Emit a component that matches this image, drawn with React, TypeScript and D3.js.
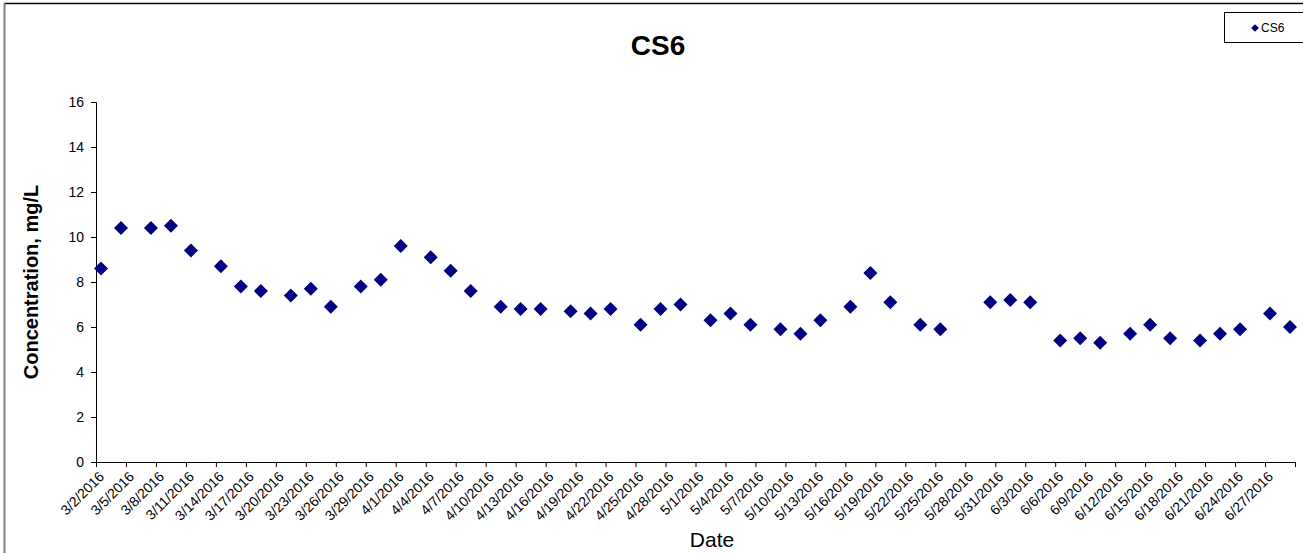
import React, { useEffect, useRef } from 'react';
import * as d3 from 'd3';

// sample dates (taken around midday) and measured concentrations
const sampleDates = [
  '3/2/2016', '3/4/2016', '3/7/2016', '3/9/2016', '3/11/2016', '3/14/2016', '3/16/2016',
  '3/18/2016', '3/21/2016', '3/23/2016', '3/25/2016', '3/28/2016', '3/30/2016', '4/1/2016',
  '4/4/2016', '4/6/2016', '4/8/2016', '4/11/2016', '4/13/2016', '4/15/2016', '4/18/2016',
  '4/20/2016', '4/22/2016', '4/25/2016', '4/27/2016', '4/29/2016', '5/2/2016', '5/4/2016',
  '5/6/2016', '5/9/2016', '5/11/2016', '5/13/2016', '5/16/2016', '5/18/2016', '5/20/2016',
  '5/23/2016', '5/25/2016', '5/30/2016', '6/1/2016', '6/3/2016', '6/6/2016', '6/8/2016',
  '6/10/2016', '6/13/2016', '6/15/2016', '6/17/2016', '6/20/2016', '6/22/2016', '6/24/2016',
  '6/27/2016', '6/29/2016',
];
const cs6Values = [
  8.6, 10.4, 10.4, 10.5, 9.4, 8.7, 7.8,
  7.6, 7.4, 7.7, 6.9, 7.8, 8.1, 9.6,
  9.1, 8.5, 7.6, 6.9, 6.8, 6.8, 6.7,
  6.6, 6.8, 6.1, 6.8, 7.0, 6.3, 6.6,
  6.1, 5.9, 5.7, 6.3, 6.9, 8.4, 7.1,
  6.1, 5.9, 7.1, 7.2, 7.1, 5.4, 5.5,
  5.3, 5.7, 6.1, 5.5, 5.4, 5.7, 5.9,
  6.6, 6.0,
];
const xDomain = ['3/2/2016', '6/30/2016'];
const yTicks = [0, 2, 4, 6, 8, 10, 12, 14, 16];
const tickStepDays = 3;

const parseDate = d3.timeParse('%m/%d/%Y');
const fmtDate = d3.timeFormat('%-m/%-d/%Y');

const W = 1303;
const H = 553;
const margin = { left: 96, right: 8, top: 102, bottom: 91 };
const navy = '#000080';
const font = 'Arial, "Liberation Sans", sans-serif';

const App: React.FC = () => {
  const svgRef = useRef<SVGSVGElement | null>(null);

  useEffect(() => {
    if (!svgRef.current) return;
    const svg = d3.select(svgRef.current);
    svg.selectAll('*').remove();

    const start = parseDate(xDomain[0]) as Date;
    const end = parseDate(xDomain[1]) as Date;
    const x = d3.scaleTime().domain([start, end]).range([margin.left, W - margin.right]);
    const y = d3.scaleLinear().domain([0, 16]).range([H - margin.bottom, margin.top]);

    const data = sampleDates.map((d, i) => ({
      date: d3.timeHour.offset(parseDate(d) as Date, 12),
      value: cs6Values[i],
    }));

    // chart frame
    svg.append('line').attr('x1', 4).attr('x2', W).attr('y1', 3.5).attr('y2', 3.5)
      .attr('stroke', '#000').attr('stroke-width', 1.5);
    svg.append('line').attr('x1', 4.5).attr('x2', 4.5).attr('y1', 3).attr('y2', H)
      .attr('stroke', '#808080').attr('stroke-width', 2);

    // title
    svg.append('text').attr('x', 658).attr('y', 55).attr('text-anchor', 'middle')
      .style('font-family', font)
      .style('font-size', '28px').style('font-weight', 'bold').text('CS6');

    // y axis
    const yAxis = d3.axisLeft(y).tickValues(yTicks).tickSize(5).tickPadding(7);
    const gy = svg.append('g').attr('transform', `translate(${margin.left},0)`).call(yAxis);
    gy.select('.domain').attr('stroke', '#000');
    gy.selectAll('.tick line').attr('stroke', '#000');
    gy.selectAll('.tick text')
      .style('font-family', font)
      .style('font-size', '14px').attr('fill', '#000');

    // x axis
    const xTicks = d3.range(0, 121, tickStepDays).map((d) => d3.timeDay.offset(start, d));
    const xAxis = d3.axisBottom(x).tickValues(xTicks).tickSize(5)
      .tickFormat((d) => {
        const dt = d as Date;
        return dt.getTime() === end.getTime() ? '' : fmtDate(dt);
      });
    const gx = svg.append('g').attr('transform', `translate(0,${H - margin.bottom})`).call(xAxis);
    gx.select('.domain').attr('stroke', '#000');
    gx.selectAll('.tick line').attr('stroke', '#000');
    gx.selectAll('.tick text')
      .style('font-family', font)
      .style('font-size', '14px').attr('fill', '#000')
      .attr('text-anchor', 'end')
      .attr('y', 0).attr('dy', '0.35em')
      .attr('transform', 'translate(5,12) rotate(-45)');

    // axis titles
    svg.append('text').attr('x', 712).attr('y', 547).attr('text-anchor', 'middle')
      .style('font-family', font)
      .style('font-size', '21px').text('Date');
    svg.append('text').attr('transform', 'translate(38,282) rotate(-90)')
      .attr('text-anchor', 'middle')
      .style('font-family', font)
      .style('font-size', '20px').style('font-weight', 'bold').text('Concentration, mg/L');

    // points
    const diamond = d3.symbol().type(d3.symbolSquare).size(98);
    svg.append('g').selectAll('path').data(data).enter().append('path')
      .attr('d', diamond() || '')
      .attr('transform', (d) => `translate(${x(d.date)},${y(d.value)}) rotate(45)`)
      .attr('fill', navy);

    // legend
    const lg = svg.append('g');
    lg.append('rect').attr('x', 1224.5).attr('y', 12.5).attr('width', 90).attr('height', 30)
      .attr('fill', '#fff').attr('stroke', '#000').attr('stroke-width', 1);
    lg.append('path').attr('d', d3.symbol().type(d3.symbolSquare).size(30)() || '')
      .attr('transform', 'translate(1255,28) rotate(45)').attr('fill', navy);
    lg.append('text').attr('x', 1261).attr('y', 32)
      .style('font-family', font)
      .style('font-size', '12px').text('CS6');
  }, []);

  return (
    <svg
      ref={svgRef}
      width={W}
      height={H}
      style={{ position: 'absolute', left: 0, top: 0, background: '#fff' }}
    />
  );
};

export default App;
